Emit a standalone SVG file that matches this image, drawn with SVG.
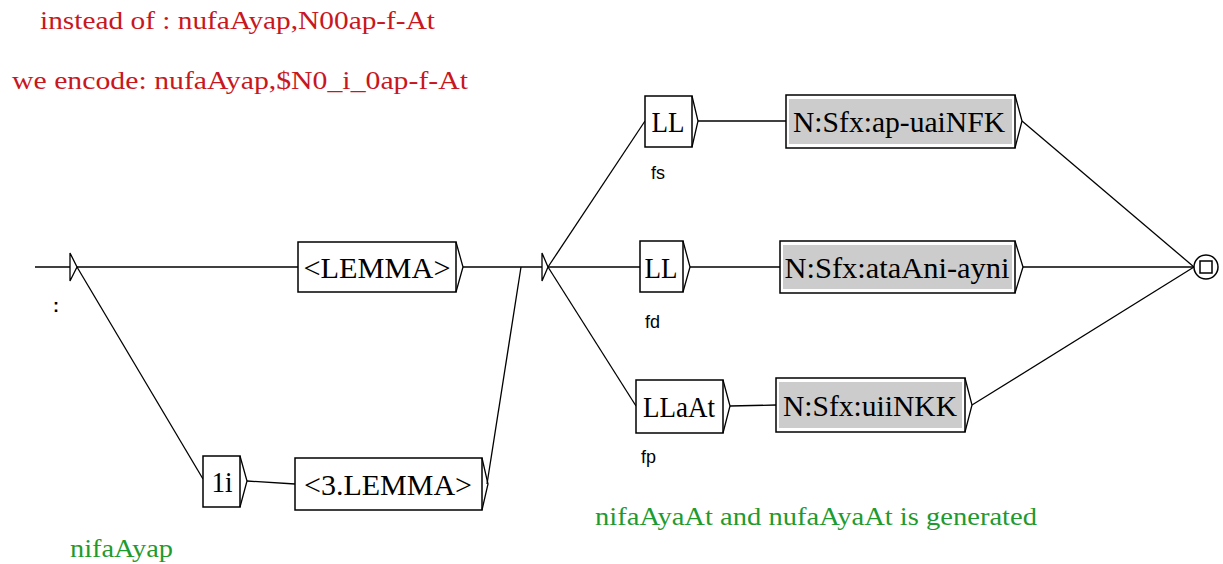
<svg xmlns="http://www.w3.org/2000/svg" width="1223" height="564" viewBox="0 0 1223 564">
<style>
.bx{fill:#fff;stroke:#000;stroke-width:1.5}
.gr{fill:#cccccc;stroke:none}
.ar{fill:none;stroke:#000;stroke-width:1.3}
.t{font-family:"Liberation Serif",serif;font-size:30px;fill:#000;text-anchor:middle}
.s{font-family:"Liberation Sans","DejaVu Sans",sans-serif;font-size:18px;fill:#000}
.red{font-family:"Liberation Serif",serif;font-size:26px;fill:#c8171e}
.grn{font-family:"Liberation Serif",serif;font-size:26px;fill:#1f9a2e}
.ln{fill:none;stroke:#000;stroke-width:1.3}
</style>
<rect width="1223" height="564" fill="#fff"/>
<text class="red" x="40" y="29" textLength="395" lengthAdjust="spacingAndGlyphs">instead of : nufaAyap,N00ap-f-At</text>
<text class="red" x="12" y="89" textLength="456" lengthAdjust="spacingAndGlyphs">we encode: nufaAyap,$N0_i_0ap-f-At</text>
<text class="grn" x="595" y="525" textLength="442" lengthAdjust="spacingAndGlyphs">nifaAyaAt and nufaAyaAt is generated</text>
<text class="grn" x="70" y="557" textLength="103" lengthAdjust="spacingAndGlyphs">nifaAyap</text>
<g id="connectors">
<line class="ln" x1="35" y1="267" x2="70" y2="267"/>
<line class="ln" x1="77" y1="267" x2="298" y2="267"/>
<line class="ln" x1="77" y1="267" x2="203" y2="479"/>
<line class="ln" x1="247" y1="481" x2="295" y2="484"/>
<line class="ln" x1="463" y1="267" x2="542" y2="267"/>
<line class="ln" x1="487" y1="484" x2="521" y2="267"/>
<line class="ln" x1="548" y1="267" x2="645" y2="121"/>
<line class="ln" x1="548" y1="267" x2="640" y2="267"/>
<line class="ln" x1="548" y1="267" x2="636" y2="406"/>
<line class="ln" x1="698" y1="121" x2="786" y2="121"/>
<line class="ln" x1="690" y1="267" x2="780" y2="267"/>
<line class="ln" x1="730" y1="406" x2="776" y2="405"/>
<line class="ln" x1="1022" y1="121" x2="1194" y2="267"/>
<line class="ln" x1="1023" y1="267" x2="1194" y2="267"/>
<line class="ln" x1="972" y1="405" x2="1194" y2="267"/>
</g>
<g id="init">
<polygon class="ar" points="70,253 77,267 70,281" fill="#fff"/>
<text class="s" x="53" y="312" font-size="20" font-weight="bold">:</text>
</g>
<g id="lemma">
<rect class="bx" x="298" y="242" width="158" height="50"/>
<polyline class="ar" points="456,242 463,267 456,292"/>
<text class="t" x="377" y="278" textLength="147" lengthAdjust="spacingAndGlyphs">&lt;LEMMA&gt;</text>
</g>
<g id="n1i">
<rect class="bx" x="203" y="456" width="37" height="51"/>
<polyline class="ar" points="240,456 247,481 240,507"/>
<text class="t" x="222" y="492" textLength="21" lengthAdjust="spacingAndGlyphs">1i</text>
</g>
<g id="lemma3">
<rect class="bx" x="295" y="458" width="187" height="52"/>
<polyline class="ar" points="482,458 488,484 482,510"/>
<text class="t" x="388" y="495" textLength="168" lengthAdjust="spacingAndGlyphs">&lt;3.LEMMA&gt;</text>
</g>
<g id="branch">
<polygon class="ar" points="542,253 548,267 542,281" fill="#fff"/>
</g>
<g id="ll1">
<rect class="bx" x="645" y="96" width="47" height="51"/>
<polyline class="ar" points="692,96 698,121 692,147"/>
<text class="t" x="668" y="132" textLength="33" lengthAdjust="spacingAndGlyphs">LL</text>
<text class="s" x="651" y="179">fs</text>
</g>
<g id="sfx1">
<rect class="bx" x="786" y="95" width="229" height="53"/>
<rect class="gr" x="789" y="99" width="223" height="45"/>
<polyline class="ar" points="1015,95 1022,121 1015,148"/>
<text class="t" x="899" y="132" textLength="212" lengthAdjust="spacingAndGlyphs">N:Sfx:ap-uaiNFK</text>
</g>
<g id="ll2">
<rect class="bx" x="640" y="241" width="43" height="51"/>
<polyline class="ar" points="683,241 690,267 683,292"/>
<text class="t" x="661" y="278" textLength="33" lengthAdjust="spacingAndGlyphs">LL</text>
<text class="s" x="645" y="328">fd</text>
</g>
<g id="sfx2">
<rect class="bx" x="780" y="241" width="235" height="52"/>
<rect class="gr" x="783" y="245" width="229" height="44"/>
<polyline class="ar" points="1015,241 1023,267 1015,293"/>
<text class="t" x="897" y="278" textLength="225" lengthAdjust="spacingAndGlyphs">N:Sfx:ataAni-ayni</text>
</g>
<g id="llaat">
<rect class="bx" x="636" y="380" width="87" height="53"/>
<polyline class="ar" points="723,380 730,406 723,433"/>
<text class="t" x="679" y="417" textLength="72" lengthAdjust="spacingAndGlyphs">LLaAt</text>
<text class="s" x="641" y="463">fp</text>
</g>
<g id="sfx3">
<rect class="bx" x="776" y="378" width="189" height="54"/>
<rect class="gr" x="779" y="382" width="183" height="46"/>
<polyline class="ar" points="965,378 972,405 965,432"/>
<text class="t" x="870" y="416" textLength="174" lengthAdjust="spacingAndGlyphs">N:Sfx:uiiNKK</text>
</g>
<g id="final">
<circle cx="1206" cy="267" r="12" fill="#fff" stroke="#000" stroke-width="1.5"/>
<rect x="1200" y="261" width="12" height="12" fill="#fff" stroke="#000" stroke-width="1.5"/>
</g>
</svg>
